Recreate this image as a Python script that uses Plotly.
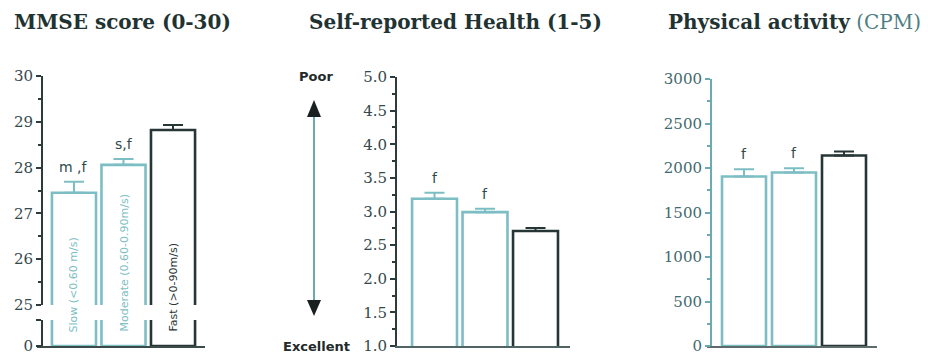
import plotly.graph_objects as go

# ---- data -------------------------------------------------------------
groups = ["Slow", "Moderate", "Fast"]
group_labels = ["Slow (<0.60 m/s)", "Moderate (0.60-0.90m/s)", "Fast (>0-90m/s)"]

mmse_mean = [27.45, 28.06, 28.82]
mmse_sem = [0.24, 0.13, 0.11]
mmse_sig = ["m ,f", "s,f", ""]

health_mean = [3.19, 2.99, 2.71]
health_sem = [0.09, 0.05, 0.045]
health_sig = ["f", "f", ""]

pa_mean = [1905, 1950, 2140]
pa_sem = [80, 48, 45]
pa_sig = ["f", "f", ""]

mmse_ticks = [25, 26, 27, 28, 29, 30]
pa_ticks = [0, 500, 1000, 1500, 2000, 2500, 3000]

# ---- styling ----------------------------------------------------------
W, H = 928, 354
TEAL = "#7cbec3"
DARK = "#263535"
AXIS_DARK = "#2d3b3b"
AXIS_TEAL = "#6aaab0"
LABEL_DARK = "#34494b"
LABEL_TEAL = "#3f6a6e"
bar_colors = [TEAL, TEAL, DARK]
SERIF = "DejaVu Serif"
SANS = "DejaVu Sans"


def fx(px):
    return px / W


def fy(py):
    return 1 - py / H


fig = go.Figure()


def add_bars(xa, ya, means, sems, width, errors=True):
    for i, (m, s) in enumerate(zip(means, sems)):
        fig.add_trace(go.Bar(
            x=[i], y=[m], width=width, xaxis=xa, yaxis=ya,
            marker=dict(color="white", line=dict(color=bar_colors[i], width=2.6)),
            error_y=dict(type="data", array=[s], arrayminus=[0], symmetric=False,
                         visible=errors, color=bar_colors[i], thickness=2, width=10),
            showlegend=False, hoverinfo="skip",
        ))


# MMSE: broken axis (upper 25-30 segment, lower stub holding zero)
add_bars("x", "y", mmse_mean, mmse_sem, 0.89)
add_bars("x", "y2", mmse_mean, mmse_sem, 0.89, errors=False)
# Self-reported health
add_bars("x2", "y3", health_mean, health_sem, 0.89)
# Physical activity
add_bars("x3", "y4", pa_mean, pa_sem, 0.88)

tickfont = dict(family=SERIF, size=15, color=LABEL_DARK)
common_x = dict(showticklabels=False, ticks="", showgrid=False, zeroline=False,
                showline=True, linewidth=2, fixedrange=True, automargin=False)
common_y = dict(showgrid=False, zeroline=False, showline=True, linewidth=2,
                ticks="outside", ticklen=5, tickwidth=2, fixedrange=True, automargin=False,
                ticklabeloverflow="allow")

fig.update_layout(
    width=W, height=H, margin=dict(l=0, r=0, t=0, b=0, pad=0), autosize=False,
    paper_bgcolor="white", plot_bgcolor="white",
    barmode="overlay", showlegend=False,
    xaxis=dict(domain=[fx(37), fx(205)], range=[-0.747, 2.646], anchor="y2",
               linecolor="#3c4a4a", **common_x),
    yaxis=dict(domain=[fy(305), fy(76)], range=[25, 30], anchor="free", position=fx(42),
               tickvals=mmse_ticks, linecolor=AXIS_DARK, tickcolor=AXIS_DARK,
               minor=dict(dtick=0.5, ticklen=3, tickwidth=2, ticks="outside", tickcolor=AXIS_DARK),
               tickfont=tickfont, **common_y),
    yaxis2=dict(domain=[fy(346), fy(320)], range=[0, 1], anchor="free", position=fx(42),
                tickvals=[0, 1], ticktext=["0", ""], linecolor=AXIS_DARK, tickcolor=AXIS_DARK,
                tickfont=tickfont, **common_y),
    xaxis2=dict(domain=[fx(397), fx(570)], range=[-0.743, 2.683], anchor="y3",
                linecolor="#506464", **common_x),
    yaxis3=dict(domain=[fy(346), fy(77)], range=[1, 5], anchor="x2",
                dtick=0.5, tick0=1, tickformat=".1f", linecolor=AXIS_DARK, tickcolor=AXIS_DARK,
                minor=dict(dtick=0.25, ticklen=3, tickwidth=2, ticks="outside", tickcolor=AXIS_DARK),
                tickfont=tickfont, **common_y),
    xaxis3=dict(domain=[fx(707), fx(877)], range=[-0.74, 2.66], anchor="y4",
                linecolor="#5e6b6b", **common_x),
    yaxis4=dict(domain=[fy(346), fy(79)], range=[0, 3000], anchor="free", position=fx(711),
                tickvals=pa_ticks, linecolor=AXIS_TEAL, tickcolor=AXIS_TEAL,
                minor=dict(dtick=250, ticklen=3, tickwidth=2, ticks="outside", tickcolor=AXIS_TEAL),
                tickfont=dict(family=SERIF, size=15, color=LABEL_TEAL), **common_y),
)

annotations = []


def paper_text(text, px, py, font, **kw):
    annotations.append(dict(text=text, x=fx(px), y=fy(py), xref="paper", yref="paper",
                            xanchor="center", yanchor="middle", showarrow=False,
                            font=font, **kw))


# panel titles
title_font = dict(family=SERIF, size=20, color="#1f3333")
paper_text("<b>MMSE score (0-30)</b>", 122, 22, title_font)
paper_text("<b>Self-reported Health (1-5)</b>", 455, 22, title_font)
paper_text("<b>Physical activity</b> <span style='color:#4f7f84'>(CPM)</span>", 794, 22, title_font)

# significance letters above the error bars
sig_font = dict(family=SANS, size=14, color="#2e4a4c")
for xa, ya, means, sems, sigs in [("x", "y", mmse_mean, mmse_sem, mmse_sig),
                                  ("x2", "y3", health_mean, health_sem, health_sig),
                                  ("x3", "y4", pa_mean, pa_sem, pa_sig)]:
    for i, s in enumerate(sigs):
        if s:
            annotations.append(dict(text=s, x=i, y=means[i] + sems[i], xref=xa, yref=ya,
                                    xanchor="center", yanchor="middle", yshift=15,
                                    showarrow=False, font=sig_font))

# rotated group names inside the MMSE bars
for i, lab in enumerate(group_labels):
    annotations.append(dict(text=lab, x=i, y=fy(334), xref="x", yref="paper",
                            textangle=-90, yanchor="bottom", xanchor="center", showarrow=False,
                            font=dict(family=SANS, size=11, color=TEAL if i < 2 else DARK)))

# direction labels for the health scale
dir_font = dict(family=SANS, size=13, color="#222a2a")
paper_text("<b>Poor</b>", 316, 76, dir_font)
paper_text("<b>Excellent</b>", 316, 346, dir_font)

fig.update_layout(annotations=annotations)

# double-headed arrow between "Poor" and "Excellent"
ax = 314
fig.add_shape(type="line", xref="paper", yref="paper",
              x0=fx(ax), x1=fx(ax), y0=fy(114), y1=fy(303),
              line=dict(color="#6aaab0", width=2))
for tip, base in [(100, 117), (316, 300)]:
    path = "M {:.5f} {:.5f} L {:.5f} {:.5f} L {:.5f} {:.5f} Z".format(
        fx(ax), fy(tip), fx(ax - 7), fy(base), fx(ax + 7), fy(base))
    fig.add_shape(type="path", xref="paper", yref="paper", path=path,
                  fillcolor="#1a1f1f", line=dict(width=0))

fig.write_html("out.html")
